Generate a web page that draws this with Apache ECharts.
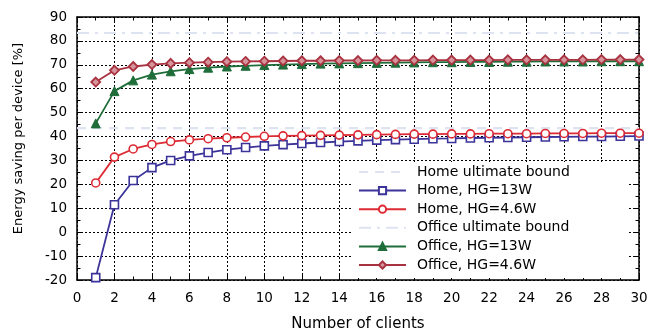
<!DOCTYPE html>
<html><head><meta charset="utf-8">
<script src="https://cdn.jsdelivr.net/npm/echarts@6/dist/echarts.min.js"></script>
<style>html,body{margin:0;padding:0;background:#fff}#c{width:651px;height:328px}</style>
</head><body><div id="c"></div>
<script>
const clients = [1,2,3,4,5,6,7,8,9,10,11,12,13,14,15,16,17,18,19,20,21,22,23,24,25,26,27,28,29,30];
const homeHG13 = [-19.0,11.5,21.6,27.0,30.0,31.9,33.3,34.5,35.4,36.1,36.6,37.1,37.5,37.9,38.2,38.5,38.7,38.9,39.1,39.2,39.4,39.5,39.6,39.7,39.8,39.9,40.0,40.0,40.1,40.2];
const homeHG46 = [20.6,31.4,34.8,36.7,37.9,38.6,39.1,39.5,39.8,40.1,40.3,40.4,40.5,40.6,40.7,40.8,40.9,41.0,41.0,41.1,41.1,41.2,41.2,41.2,41.3,41.3,41.3,41.4,41.4,41.4];
const officeHG13 = [45.5,59.0,63.5,65.9,67.3,68.2,68.8,69.3,69.6,69.9,70.1,70.3,70.5,70.6,70.7,70.8,70.9,71.0,71.1,71.1,71.2,71.2,71.3,71.3,71.4,71.4,71.4,71.5,71.5,71.5];
const officeHG46 = [62.8,67.7,69.3,70.1,70.6,70.9,71.1,71.3,71.4,71.5,71.6,71.7,71.7,71.8,71.8,71.9,71.9,71.9,72.0,72.0,72.0,72.0,72.1,72.1,72.1,72.1,72.1,72.2,72.2,72.2];
const boundX = [0, 30];
const homeBound = 43.5;
const officeBound = 83.3;
const seriesNames = ['Home ultimate bound','Home, HG=13W','Home, HG=4.6W','Office ultimate bound','Office, HG=13W','Office, HG=4.6W'];
const xTitle = 'Number of clients';
const yTitle = 'Energy saving per device [%]';

const FONT = 'DejaVu Sans';
const pair = arr => clients.map((c,i)=>[c, arr[i]]);
const flat = v => boundX.map(x=>[x, v]);
const BOUND = '#dde3f1';

const chart = echarts.init(document.getElementById('c'), null, {renderer:'canvas'});
const frameAxis = {onZero:false, lineStyle:{color:'#000', width:1.5}};
const tick = {inside:true, length:6, lineStyle:{color:'#000', width:1}};
const minor = {show:true, splitNumber:2, length:3.5, lineStyle:{color:'#000', width:1}};
const hidden = {color:'rgba(0,0,0,0)', borderColor:'rgba(0,0,0,0)', opacity:0};
chart.setOption({
  animation:false,
  textStyle:{fontFamily:FONT},
  grid:{left:77, right:12, top:17, bottom:48, containLabel:false, outerBoundsMode:'none'},
  legend:{
    orient:'vertical', left:352, top:162,
    padding:[3,59,6,6],
    backgroundColor:'#fff',
    itemWidth:47, itemHeight:9, itemGap:4.6,
    textStyle:{fontFamily:FONT, fontSize:14, color:'#000', padding:[0,0,0,6]},
    data: seriesNames.map((n,i)=> (i===0||i===3) ? {name:n, itemStyle:hidden} : {name:n})
  },
  xAxis:[{
    type:'value', min:0, max:30, interval:2, position:'bottom',
    name:xTitle, nameLocation:'middle', nameGap:37,
    nameTextStyle:{fontFamily:FONT, fontSize:15, color:'#000'},
    axisLine:frameAxis, axisTick:tick, minorTick:minor,
    axisLabel:{color:'#000', fontFamily:FONT, fontSize:13.5, margin:11},
    splitLine:{show:true, lineStyle:{color:'#000', width:1, type:[2,2]}}
  },{
    type:'value', min:0, max:30, interval:2, position:'top',
    axisLine:frameAxis, axisTick:tick, minorTick:minor,
    axisLabel:{show:false}, splitLine:{show:false}
  }],
  yAxis:[{
    type:'value', min:-20, max:90, interval:10, position:'left',
    name:yTitle, nameLocation:'middle', nameGap:52, nameRotate:90,
    nameTextStyle:{fontFamily:FONT, fontSize:13, color:'#000', padding:[0,0,0,20]},
    axisLine:frameAxis, axisTick:tick, minorTick:minor,
    axisLabel:{color:'#000', fontFamily:FONT, fontSize:13.5, margin:10},
    splitLine:{show:true, lineStyle:{color:'#000', width:1, type:[2,2]}}
  },{
    type:'value', min:-20, max:90, interval:10, position:'right',
    axisLine:frameAxis, axisTick:tick, minorTick:minor,
    axisLabel:{show:false}, splitLine:{show:false}
  }],
  series:[
    {name:seriesNames[0], type:'line', data:flat(homeBound), symbol:'none',
     lineStyle:{color:BOUND, width:2.2, type:[9,7]}, itemStyle:{color:BOUND}, z:1},
    {name:seriesNames[1], type:'line', data:pair(homeHG13), symbol:'rect', symbolSize:8,
     lineStyle:{color:'#3b3399', width:1.8}, itemStyle:{color:'#fff', borderColor:'#3b3399', borderWidth:1.6}},
    {name:seriesNames[2], type:'line', data:pair(homeHG46), symbol:'circle', symbolSize:8,
     lineStyle:{color:'#dd2a33', width:1.8}, itemStyle:{color:'#fff', borderColor:'#dd2a33', borderWidth:1.6}},
    {name:seriesNames[3], type:'line', data:flat(officeBound), symbol:'none',
     lineStyle:{color:BOUND, width:2.2, type:[12,6,3,6]}, itemStyle:{color:BOUND}, z:1},
    {name:seriesNames[4], type:'line', data:pair(officeHG13), symbol:'triangle', symbolSize:9,
     lineStyle:{color:'#1f6e3a', width:1.8}, itemStyle:{color:'#1f6e3a', borderColor:'#1f6e3a', borderWidth:1}},
    {name:seriesNames[5], type:'line', data:pair(officeHG46), symbol:'diamond', symbolSize:9,
     lineStyle:{color:'#a8323f', width:1.8}, itemStyle:{color:'#d6949c', borderColor:'#a8323f', borderWidth:1.8}}
  ]
});
</script></body></html>
